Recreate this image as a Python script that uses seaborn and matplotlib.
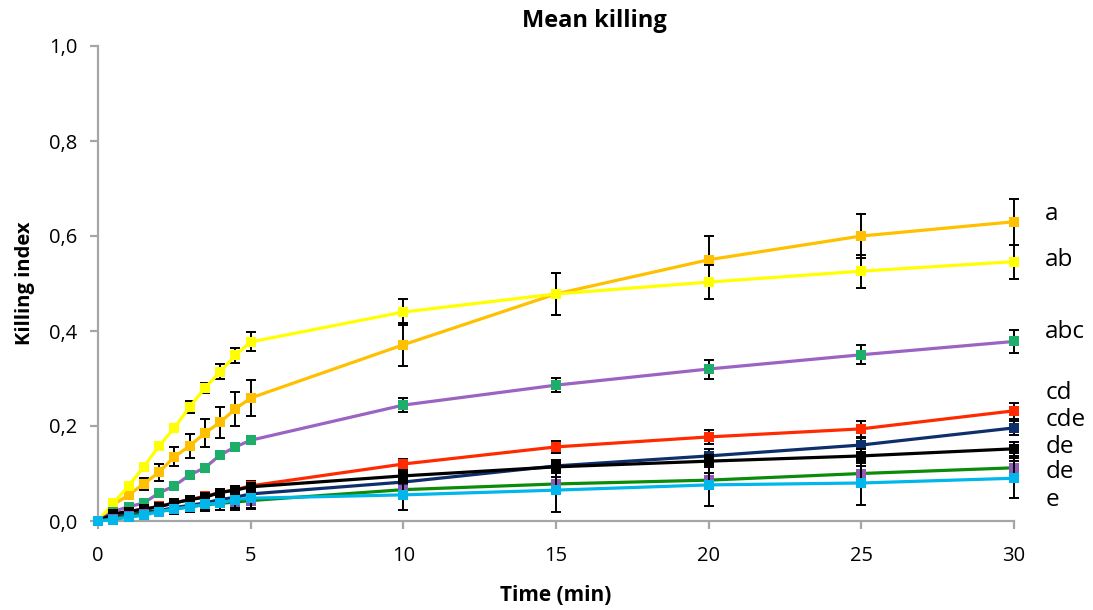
import matplotlib
matplotlib.use("Agg")
import matplotlib.pyplot as plt
import matplotlib.transforms as mtransforms
import seaborn as sns
import pandas as pd
import numpy as np

# ---- data ----
time_min = [0, 0.5, 1, 1.5, 2, 2.5, 3, 3.5, 4, 4.5, 5, 10, 15, 20, 25, 30]

s_a = [0, 0.034, 0.055, 0.078, 0.103, 0.135, 0.158, 0.185, 0.208, 0.236, 0.259, 0.371, 0.478, 0.550, 0.600, 0.630]
e_a = [0, 0.005, 0.008, 0.012, 0.018, 0.020, 0.025, 0.030, 0.033, 0.035, 0.037, 0.045, 0.045, 0.050, 0.047, 0.048]

s_ab = [0, 0.037, 0.074, 0.114, 0.158, 0.196, 0.240, 0.280, 0.314, 0.349, 0.377, 0.440, 0.478, 0.503, 0.526, 0.546]
e_ab = [0, 0.003, 0.005, 0.006, 0.006, 0.006, 0.012, 0.010, 0.016, 0.016, 0.020, 0.028, 0.045, 0.035, 0.035, 0.036]

s_abc = [0, 0.020, 0.030, 0.038, 0.059, 0.074, 0.097, 0.112, 0.139, 0.156, 0.170, 0.244, 0.286, 0.320, 0.350, 0.378]
e_abc = [0, 0.003, 0.003, 0.004, 0.004, 0.004, 0.005, 0.005, 0.006, 0.007, 0.008, 0.015, 0.015, 0.020, 0.020, 0.024]

s_cd = [0, 0.012, 0.020, 0.025, 0.031, 0.038, 0.045, 0.052, 0.060, 0.066, 0.074, 0.120, 0.156, 0.177, 0.194, 0.232]
e_cd = [0, 0.003, 0.004, 0.005, 0.005, 0.006, 0.006, 0.007, 0.008, 0.008, 0.010, 0.010, 0.012, 0.015, 0.017, 0.017]

s_cde = [0, 0.008, 0.013, 0.018, 0.022, 0.028, 0.033, 0.038, 0.045, 0.050, 0.057, 0.082, 0.116, 0.137, 0.160, 0.196]
e_cde = [0, 0.003, 0.004, 0.004, 0.005, 0.005, 0.006, 0.006, 0.007, 0.008, 0.009, 0.012, 0.013, 0.014, 0.015, 0.015]

s_de1 = [0, 0.015, 0.020, 0.025, 0.030, 0.038, 0.045, 0.050, 0.060, 0.065, 0.072, 0.095, 0.114, 0.126, 0.137, 0.152]
e_de1 = [0, 0.003, 0.004, 0.004, 0.005, 0.005, 0.006, 0.006, 0.007, 0.008, 0.008, 0.010, 0.012, 0.013, 0.014, 0.015]

s_de2 = [0, 0.005, 0.010, 0.015, 0.020, 0.025, 0.030, 0.034, 0.037, 0.040, 0.043, 0.066, 0.078, 0.086, 0.100, 0.112]
e_de2 = [0, 0.003, 0.004, 0.005, 0.006, 0.008, 0.010, 0.012, 0.014, 0.016, 0.018, 0.015, 0.015, 0.015, 0.015, 0.015]

s_e = [0, 0.003, 0.008, 0.012, 0.020, 0.025, 0.030, 0.035, 0.038, 0.045, 0.048, 0.055, 0.065, 0.076, 0.080, 0.090]
e_e = [0, 0.003, 0.005, 0.006, 0.008, 0.010, 0.010, 0.012, 0.015, 0.018, 0.020, 0.032, 0.045, 0.044, 0.046, 0.042]

series_names = ["a", "ab", "abc", "cd", "cde", "de1", "de2", "e"]
series_labels = ["a", "ab", "abc", "cd", "cde", "de", "de", "e"]
series_vals = [s_a, s_ab, s_abc, s_cd, s_cde, s_de1, s_de2, s_e]
series_errs = [e_a, e_ab, e_abc, e_cd, e_cde, e_de1, e_de2, e_e]
label_y = [0.646, 0.549, 0.398, 0.269, 0.213, 0.156, 0.103, 0.044]

line_colors = ["#FFC000", "#FFFF00", "#9B63C2", "#FF2A00", "#0E2F6B", "#000000", "#0A8C0A", "#00B7EB"]
marker_colors = ["#FFC000", "#FFFF00", "#1DAE6A", "#FF2A00", "#0E2F6B", "#000000", "#8E5BB5", "#00B7EB"]

x_ticks = [0, 5, 10, 15, 20, 25, 30]
y_ticks = [0.0, 0.2, 0.4, 0.6, 0.8, 1.0]
y_ticklabels = ["0,0", "0,2", "0,4", "0,6", "0,8", "1,0"]

# ---- long table ----
rows = []
for name, vals, errs in zip(series_names, series_vals, series_errs):
    for t, v, e in zip(time_min, vals, errs):
        rows.append({"time": t, "value": v, "err": e, "series": name})
df = pd.DataFrame(rows)

sns.set_theme(style="white")
plt.rcParams["font.family"] = ["Open Sans", "DejaVu Sans"]
plt.rcParams["text.color"] = "black"
plt.rcParams["axes.labelcolor"] = "black"

fig = plt.figure(figsize=(10.93, 6.10), dpi=100)
ax = fig.add_axes([98 / 1093, 1 - 521 / 610, (1014 - 98) / 1093, (521 - 46) / 610])

for i, name in enumerate(series_names):
    sub = df[df["series"] == name]
    z = 2 + i * 0.1
    ax.errorbar(sub["time"], sub["value"], yerr=sub["err"], fmt="none",
                ecolor="black", elinewidth=1.4, capsize=3.3, capthick=1.4,
                zorder=z, clip_on=False)
    sns.lineplot(data=sub, x="time", y="value", color=line_colors[i],
                 linewidth=2.3, ax=ax, zorder=z + 0.03, clip_on=False,
                 estimator=None, errorbar=None)
    sns.scatterplot(data=sub, x="time", y="value", color=marker_colors[i],
                    marker="s", s=50, linewidth=0, ax=ax, zorder=z + 0.06,
                    clip_on=False)

ax.set_xlim(0, 30)
ax.set_ylim(0, 1.0)
ax.set_xticks(x_ticks)
ax.set_xticklabels([str(t) for t in x_ticks])
ax.set_yticks(y_ticks)
ax.set_yticklabels(y_ticklabels)

for side in ["top", "right"]:
    ax.spines[side].set_visible(False)
for side in ["left", "bottom"]:
    ax.spines[side].set_color("#A6A6A6")
    ax.spines[side].set_linewidth(1.6)
ax.tick_params(axis="both", which="major", direction="out", length=6,
               width=1.6, color="#A6A6A6", labelsize=14.5, labelcolor="black",
               left=True, bottom=True)
ax.tick_params(axis="y", pad=9)
ax.tick_params(axis="x", pad=12)

ax.set_xlabel("Time (min)", fontsize=15, fontweight="bold", labelpad=14)
ax.set_ylabel("Killing index", fontsize=14.5, fontweight="bold", labelpad=10)
fig.text(594 / 1093, 1 - 21 / 610, "Mean killing", fontsize=17,
         fontweight="bold", ha="center", va="center")

trans = mtransforms.blended_transform_factory(ax.transAxes, ax.transData)
for lab, ly in zip(series_labels, label_y):
    ax.text(1.034, ly, lab, transform=trans, fontsize=17.5, ha="left",
            va="center", clip_on=False)

fig.savefig("out.png", dpi=100)
